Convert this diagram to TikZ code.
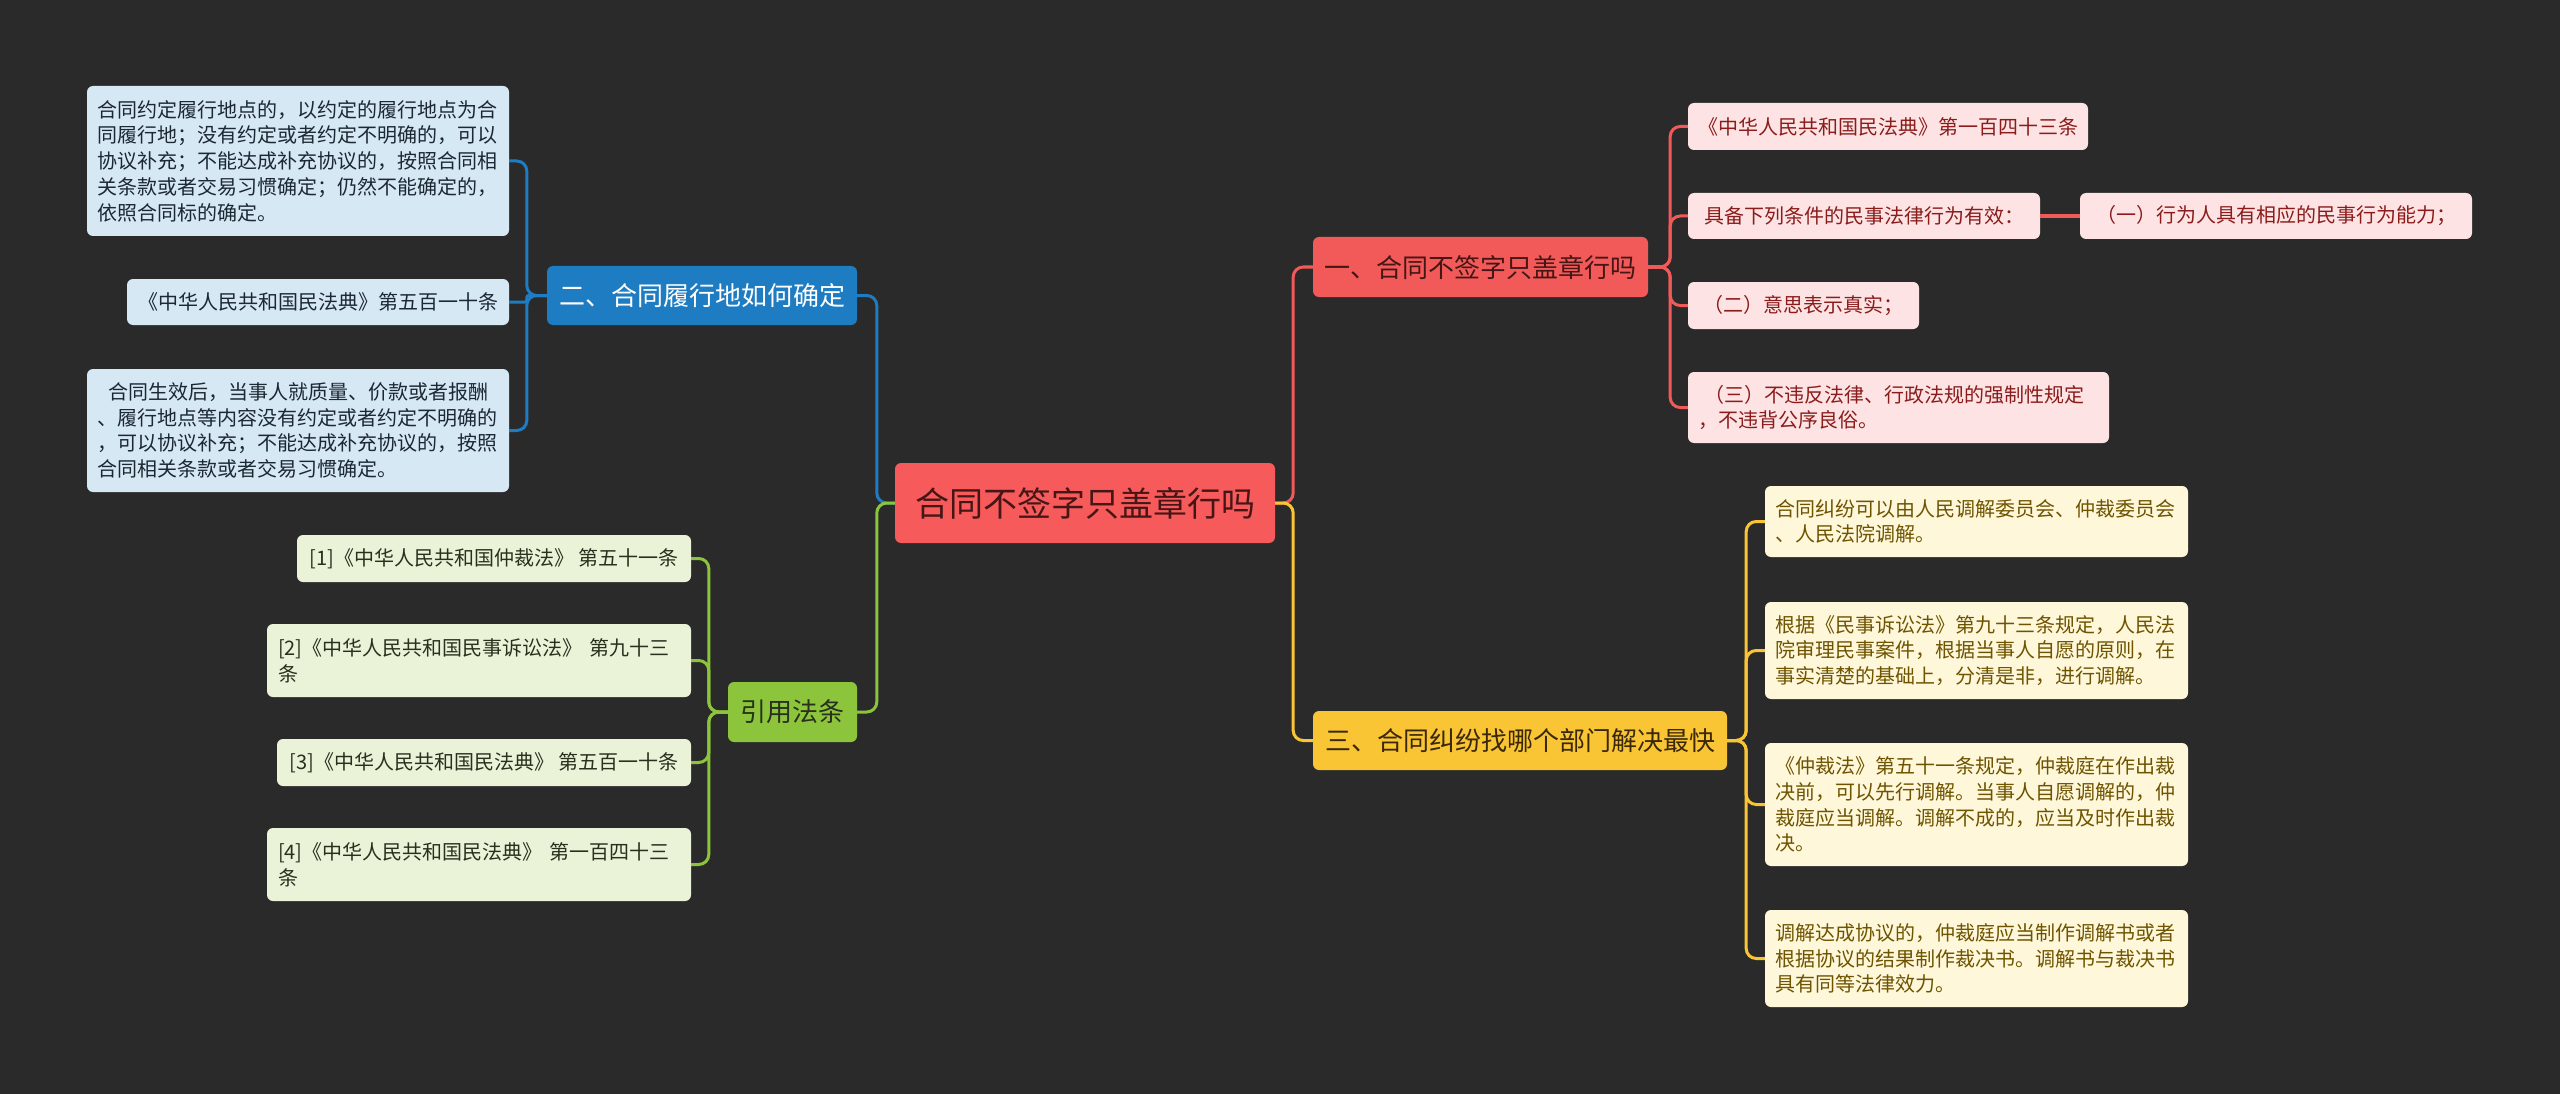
\documentclass[tikz,border=0pt]{standalone}
\usepackage{fontspec}
\setmainfont{Noto Sans CJK SC}
\usepackage{tikz}
\usetikzlibrary{positioning}
\usepackage{xcolor}
\definecolor{bgdark}{RGB}{42, 42, 42}
\definecolor{rootred}{RGB}{246, 90, 90}
\definecolor{rootink}{RGB}{70, 22, 22}
\definecolor{secblue}{RGB}{30, 124, 194}
\definecolor{secgreen}{RGB}{140, 196, 60}
\definecolor{secyellow}{RGB}{249, 197, 53}
\definecolor{secred}{RGB}{242, 90, 90}
\definecolor{leafblue}{RGB}{214, 232, 244}
\definecolor{leafgreen}{RGB}{234, 243, 216}
\definecolor{leafyellow}{RGB}{255, 247, 218}
\definecolor{leafpink}{RGB}{253, 227, 227}
\definecolor{inkblue}{RGB}{28, 40, 52}
\definecolor{inkgreen}{RGB}{40, 48, 30}
\definecolor{inkbrown}{RGB}{110, 84, 0}
\definecolor{inkred}{RGB}{139, 28, 28}
\definecolor{inkdark}{RGB}{58, 40, 8}

\tikzset{
  box/.style={rounded corners=6pt, inner sep=0pt, align=center},
  topic/.style={box, fill=rootred, text=rootink, font=\fontsize{34}{40}\selectfont},
  branch/.style={box, font=\fontsize{26}{32}\selectfont},
  leaf/.style={box, font=\fontsize{20}{25.7}\selectfont},
  link/.style={line width=3pt, rounded corners=10pt},
}

\begin{document}
\begin{tikzpicture}[x=1pt, y=-1pt]
    % Canvas
    \fill[bgdark] (0,0) rectangle (2560,1094);
    \useasboundingbox (0,0) rectangle (2560,1094);

    % Central topic
    \node[topic, minimum width=380pt, minimum height=80pt] (root) at (1085,503) {合同不签字只盖章行吗};

    % Main branches
    \node[branch, fill=secred, text=rootink, minimum width=335pt, minimum height=60pt] (sec1) at (1480.5,267) {一、合同不签字只盖章行吗};
    \node[branch, fill=secblue, text=white, minimum width=310pt, minimum height=59pt] (sec2) at (702,295.5) {二、合同履行地如何确定};
    \node[branch, fill=secyellow, text=inkdark, minimum width=414pt, minimum height=59pt] (sec3) at (1520,740.5) {三、合同纠纷找哪个部门解决最快};
    \node[branch, fill=secgreen, text=inkgreen, minimum width=129pt, minimum height=60pt] (cite) at (792.5,712) {引用法条};

    % Branch one: conditions
    \node[leaf, fill=leafpink, text=inkred, minimum width=400pt, minimum height=47pt] (law) at (1888,126.5) {《中华人民共和国民法典》第一百四十三条};
    \node[leaf, fill=leafpink, text=inkred, minimum width=352pt, minimum height=46pt] (cond) at (1864,216) {具备下列条件的民事法律行为有效：};
    \node[leaf, fill=leafpink, text=inkred, minimum width=392pt, minimum height=46pt] (condA) at (2276,216) {（一）行为人具有相应的民事行为能力；};
    \node[leaf, fill=leafpink, text=inkred, minimum width=231pt, minimum height=47pt] (condB) at (1803.5,305.5) {（二）意思表示真实；};
    \node[leaf, fill=leafpink, text=inkred, minimum width=421pt, minimum height=71pt, text width=400pt, align=left] (condC) at (1898.5,407.5) {\hspace*{6pt}（三）不违反法律、行政法规的强制性规定\\，不违背公序良俗。};

    % Branch two: place of performance
    \node[leaf, fill=leafblue, text=inkblue, minimum width=422pt, minimum height=150pt, text width=402pt, align=left] (place1) at (298,161) {合同约定履行地点的，以约定的履行地点为合\\同履行地；没有约定或者约定不明确的，可以\\协议补充；不能达成补充协议的，按照合同相\\关条款或者交易习惯确定；仍然不能确定的，\\依照合同标的确定。};
    \node[leaf, fill=leafblue, text=inkblue, minimum width=382pt, minimum height=46pt] (place2) at (318,302) {《中华人民共和国民法典》第五百一十条};
    \node[leaf, fill=leafblue, text=inkblue, minimum width=422pt, minimum height=123pt, text width=402pt, align=left] (place3) at (298,430.5) {\hspace*{11pt}合同生效后，当事人就质量、价款或者报酬\\、履行地点等内容没有约定或者约定不明确的\\，可以协议补充；不能达成补充协议的，按照\\合同相关条款或者交易习惯确定。};

    % Cited articles
    \node[leaf, fill=leafgreen, text=inkgreen, minimum width=394pt, minimum height=47pt] (ref1) at (494,558.5) {[1]《中华人民共和国仲裁法》 第五十一条};
    \node[leaf, fill=leafgreen, text=inkgreen, minimum width=424pt, minimum height=73pt, text width=402pt, align=left] (ref2) at (479,660.5) {[2]《中华人民共和国民事诉讼法》 第九十三\\条};
    \node[leaf, fill=leafgreen, text=inkgreen, minimum width=414pt, minimum height=47pt] (ref3) at (484,762.5) {[3]《中华人民共和国民法典》 第五百一十条};
    \node[leaf, fill=leafgreen, text=inkgreen, minimum width=424pt, minimum height=73pt, text width=402pt, align=left] (ref4) at (479,864.5) {[4]《中华人民共和国民法典》 第一百四十三\\条};

    % Branch three: mediation
    \node[leaf, fill=leafyellow, text=inkbrown, minimum width=423pt, minimum height=71pt, text width=402pt, align=left] (med1) at (1976.5,521.5) {合同纠纷可以由人民调解委员会、仲裁委员会\\、人民法院调解。};
    \node[leaf, fill=leafyellow, text=inkbrown, minimum width=423pt, minimum height=97pt, text width=402pt, align=left] (med2) at (1976.5,650.5) {根据《民事诉讼法》第九十三条规定，人民法\\院审理民事案件，根据当事人自愿的原则，在\\事实清楚的基础上，分清是非，进行调解。};
    \node[leaf, fill=leafyellow, text=inkbrown, minimum width=423pt, minimum height=123pt, text width=402pt, align=left] (med3) at (1976.5,804.5) {《仲裁法》第五十一条规定，仲裁庭在作出裁\\决前，可以先行调解。当事人自愿调解的，仲\\裁庭应当调解。调解不成的，应当及时作出裁\\决。};
    \node[leaf, fill=leafyellow, text=inkbrown, minimum width=423pt, minimum height=97pt, text width=402pt, align=left] (med4) at (1976.5,958.5) {调解达成协议的，仲裁庭应当制作调解书或者\\根据协议的结果制作裁决书。调解书与裁决书\\具有同等法律效力。};

    % Root to branches
    \draw[link, secred] (root.east) -- ++(18,0) |- (sec1.west);
    \draw[link, secyellow] (root.east) -- ++(18,0) |- (sec3.west);
    \draw[link, secblue] (root.west) -- ++(-18,0) |- (sec2.east);
    \draw[link, secgreen] (root.west) -- ++(-18,0) |- (cite.east);

    % Branch to leaves
    \foreach \leaf in {law, cond, condB, condC} {
        \draw[link, secred] (sec1.east) -- ++(22,0) |- (\leaf.west);
    }
    \draw[secred, line width=4pt] (cond.east) -- (condA.west);
    \foreach \leaf in {place1, place3} {
        \draw[link, secblue] (sec2.west) -- ++(-20,0) |- (\leaf.east);
    }
    \draw[link, rounded corners=2pt, secblue] (sec2.west) -- ++(-20,0) |- (place2.east);
    \foreach \leaf in {ref1, ref2, ref3, ref4} {
        \draw[link, secgreen] (cite.west) -- ++(-19,0) |- (\leaf.east);
    }
    \foreach \leaf in {med1, med2, med3, med4} {
        \draw[link, secyellow] (sec3.east) -- ++(19,0) |- (\leaf.west);
    }
\end{tikzpicture}
\end{document}
